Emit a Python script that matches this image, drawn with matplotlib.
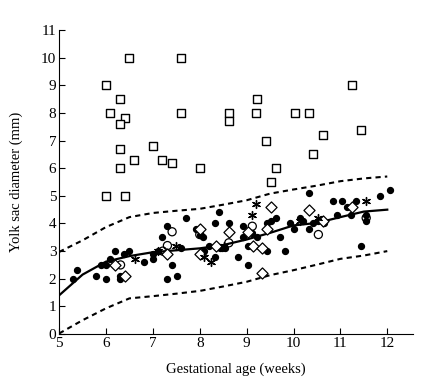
import matplotlib.pyplot as plt

plt.rcParams['font.family'] = ['Liberation Serif', 'DejaVu Serif']

# filled dots
dot_x = [5.29, 5.39, 5.79, 5.89, 6.0, 6.0, 6.09, 6.2, 6.29, 6.3, 6.39, 6.5, 6.81, 7.0, 7.0,
         7.1, 7.2, 7.3, 7.31, 7.41, 7.51, 7.6, 7.7, 7.91, 8.0, 8.06, 8.1, 8.2, 8.32, 8.32,
         8.41, 8.43, 8.54, 8.62, 8.82, 8.92, 8.93, 9.02, 9.02, 9.12, 9.22, 9.32, 9.43, 9.43,
         9.52, 9.62, 9.72, 9.82, 9.93, 10.02, 10.13, 10.2, 10.32, 10.33, 10.42, 10.53, 10.64,
         10.84, 10.92, 11.04, 11.14, 11.22, 11.34, 11.45, 11.55, 11.55, 11.84, 12.05, 8.48]
dot_y = [2.0, 2.3, 2.1, 2.5, 2.0, 2.5, 2.7, 3.0, 2.1, 2.0, 2.9, 3.0, 2.6, 2.7, 2.9,
         3.0, 3.5, 3.9, 2.0, 2.5, 2.1, 3.1, 4.2, 3.8, 3.6, 3.5, 3.0, 3.2, 4.0, 2.8,
         4.4, 3.1, 3.1, 4.0, 2.8, 3.5, 3.9, 3.2, 2.5, 3.65, 3.5, 3.1, 4.0, 3.0,
         4.1, 4.2, 3.5, 3.0, 4.0, 3.8, 4.2, 4.1, 3.8, 5.1, 4.0, 4.1, 4.0,
         4.8, 4.3, 4.8, 4.6, 4.3, 4.8, 3.2, 4.3, 4.1, 5.0, 5.2, 3.1]

# open circles
circ_x = [6.31, 7.21, 7.31, 7.41, 8.0, 8.62, 9.12, 10.53, 11.55]
circ_y = [2.5, 3.0, 3.2, 3.7, 3.6, 3.3, 3.9, 3.6, 4.2]

# open diamonds
diam_x = [6.2, 6.41, 7.31, 8.01, 8.0, 8.34, 8.62, 9.02, 9.13, 9.32, 9.43, 9.52, 9.32,
          10.33, 10.63, 11.24]
diam_y = [2.5, 2.1, 2.9, 3.8, 2.9, 3.2, 3.7, 3.7, 3.2, 3.1, 3.8, 4.6, 2.2,
          4.5, 4.1, 4.6]

# asterisks
star_x = [6.61, 7.1, 7.5, 8.1, 8.23, 8.52, 9.21, 9.12, 10.13, 10.53, 11.55]
star_y = [2.7, 3.0, 3.2, 2.8, 2.6, 3.2, 4.7, 4.3, 4.1, 4.2, 4.8]

# open squares
sq_x = [6.0, 6.09, 6.3, 6.4, 6.3, 6.3, 6.3, 6.49, 6.59, 7.0, 7.2, 7.4, 7.61, 7.61, 8.0,
        8.62, 8.62, 9.22, 9.21, 10.03, 10.33, 11.24, 11.43, 10.63, 9.42, 10.42, 9.63,
        9.52, 6.0, 6.4]
sq_y = [9.0, 8.0, 8.5, 7.8, 7.6, 6.7, 6.0, 10.0, 6.3, 6.8, 6.3, 6.2, 10.0, 8.0, 6.0,
        8.0, 7.7, 8.5, 8.0, 8.0, 8.0, 9.0, 7.4, 7.2, 7.0, 6.5, 6.0,
        5.5, 5.0, 5.0]

# fitted mean and limits
curve_x = [5, 5.5, 6, 6.5, 7, 7.5, 8, 8.5, 9, 9.5, 10, 10.5, 11, 11.5, 12]
mean_y = [1.4, 2.15, 2.62, 2.82, 2.96, 3.03, 3.1, 3.22, 3.42, 3.66, 3.93, 4.02, 4.23, 4.43, 4.5]
upper_y = [2.97, 3.39, 3.87, 4.23, 4.38, 4.46, 4.53, 4.68, 4.84, 5.08, 5.23, 5.37, 5.53, 5.63, 5.7]
lower_y = [0.02, 0.5, 0.93, 1.29, 1.37, 1.46, 1.56, 1.72, 1.89, 2.13, 2.31, 2.51, 2.72, 2.84, 3.0]

fig = plt.figure(figsize=(4.48, 3.8), dpi=100)
ax = fig.add_axes([0.132, 0.121, 0.79, 0.8])

ax.plot(curve_x, mean_y, color='black', lw=1.6)
ax.plot(curve_x, upper_y, color='black', lw=1.5, dashes=(2.5, 2.0))
ax.plot(curve_x, lower_y, color='black', lw=1.5, dashes=(2.5, 2.0))

ax.scatter(sq_x, sq_y, marker='s', s=36, facecolors='white', edgecolors='black', linewidths=1.0, zorder=3)
ax.scatter(dot_x, dot_y, marker='o', s=18, color='black', zorder=3)
ax.scatter(circ_x, circ_y, marker='o', s=34, facecolors='none', edgecolors='black', linewidths=0.9, zorder=4)
ax.scatter(diam_x, diam_y, marker='D', s=32, facecolors='white', edgecolors='black', linewidths=0.9, zorder=4)
ax.scatter(star_x, star_y, marker=(6, 2, 0), s=32, color='black', linewidths=1.0, zorder=4)

ax.set_xlim(5, 12.55)
ax.set_ylim(0, 11)
ax.set_xticks(range(5, 13))
ax.set_yticks(range(0, 12))
ax.spines['top'].set_visible(False)
ax.spines['right'].set_visible(False)
ax.tick_params(direction='in', length=4, labelsize=11, pad=2)
ax.set_xlabel('Gestational age (weeks)', fontsize=10.5, labelpad=9)
ax.set_ylabel('Yolk sac diameter (mm)', fontsize=10.5, labelpad=13)

fig.savefig('out.png', dpi=100)
